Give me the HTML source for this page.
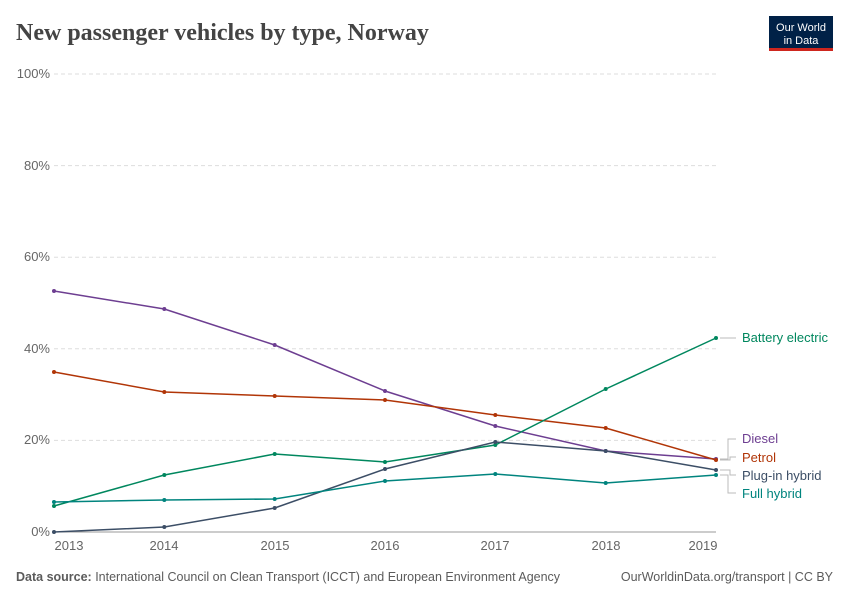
<!DOCTYPE html>
<html><head><meta charset="utf-8"><style>
body{margin:0;background:#fff;width:850px;height:600px;overflow:hidden;font-family:"Liberation Sans",sans-serif}
</style></head><body>
<svg width="850" height="600" xmlns="http://www.w3.org/2000/svg" font-family="Liberation Sans, sans-serif">
<text x="16" y="40" font-family="Liberation Serif, serif" font-size="24" font-weight="bold" fill="#444">New passenger vehicles by type, Norway</text>
<rect x="769" y="16" width="64" height="34" fill="#002147"/>
<rect x="769" y="48" width="64" height="3" fill="#ce261e"/>
<text x="801" y="31" font-size="11" fill="#fff" text-anchor="middle">Our World</text>
<text x="801" y="44" font-size="11" fill="#fff" text-anchor="middle">in Data</text>
<g stroke="#ddd" stroke-dasharray="4,3">
<line x1="54" x2="716" y1="74" y2="74"/><line x1="54" x2="716" y1="165.6" y2="165.6"/><line x1="54" x2="716" y1="257.2" y2="257.2"/><line x1="54" x2="716" y1="348.8" y2="348.8"/><line x1="54" x2="716" y1="440.4" y2="440.4"/>
</g>
<line x1="54" x2="716" y1="532" y2="532" stroke="#999"/>
<g font-size="13" fill="#666" text-anchor="end">
<text x="50" y="78">100%</text><text x="50" y="170">80%</text><text x="50" y="261">60%</text><text x="50" y="353">40%</text><text x="50" y="444">20%</text><text x="50" y="536">0%</text>
</g>
<g font-size="13" fill="#666" text-anchor="middle">
<text x="69" y="550">2013</text><text x="164" y="550">2014</text><text x="275" y="550">2015</text><text x="385" y="550">2016</text><text x="495" y="550">2017</text><text x="606" y="550">2018</text><text x="703" y="550">2019</text>
</g>
<g fill="none" stroke-width="1.5">
<polyline stroke="#6d3e91" points="54,291 164.3,309 274.7,345 385,391 495.3,426 605.7,451 716,459"/>
<polyline stroke="#b13507" points="54,372 164.3,392 274.7,396 385,400 495.3,415 605.7,428 716,460"/>
<polyline stroke="#00875e" points="54,506 164.3,475 274.7,454 385,462 495.3,445 605.7,389 716,338"/>
<polyline stroke="#3c4e66" points="54,532 164.3,527 274.7,508 385,469 495.3,442 605.7,451 716,470"/>
<polyline stroke="#00847e" points="54,502 164.3,500 274.7,499 385,481 495.3,474 605.7,483 716,475"/>
</g>
<g>
<g fill="#6d3e91"><circle cx="54" cy="291" r="2"/><circle cx="164.3" cy="309" r="2"/><circle cx="274.7" cy="345" r="2"/><circle cx="385" cy="391" r="2"/><circle cx="495.3" cy="426" r="2"/><circle cx="605.7" cy="451" r="2"/><circle cx="716" cy="459" r="2"/></g>
<g fill="#b13507"><circle cx="54" cy="372" r="2"/><circle cx="164.3" cy="392" r="2"/><circle cx="274.7" cy="396" r="2"/><circle cx="385" cy="400" r="2"/><circle cx="495.3" cy="415" r="2"/><circle cx="605.7" cy="428" r="2"/><circle cx="716" cy="460" r="2"/></g>
<g fill="#00875e"><circle cx="54" cy="506" r="2"/><circle cx="164.3" cy="475" r="2"/><circle cx="274.7" cy="454" r="2"/><circle cx="385" cy="462" r="2"/><circle cx="495.3" cy="445" r="2"/><circle cx="605.7" cy="389" r="2"/><circle cx="716" cy="338" r="2"/></g>
<g fill="#3c4e66"><circle cx="54" cy="532" r="2"/><circle cx="164.3" cy="527" r="2"/><circle cx="274.7" cy="508" r="2"/><circle cx="385" cy="469" r="2"/><circle cx="495.3" cy="442" r="2"/><circle cx="605.7" cy="451" r="2"/><circle cx="716" cy="470" r="2"/></g>
<g fill="#00847e"><circle cx="54" cy="502" r="2"/><circle cx="164.3" cy="500" r="2"/><circle cx="274.7" cy="499" r="2"/><circle cx="385" cy="481" r="2"/><circle cx="495.3" cy="474" r="2"/><circle cx="605.7" cy="483" r="2"/><circle cx="716" cy="475" r="2"/></g>
</g>
<g stroke="#bbb" fill="none">
<line x1="720" x2="736" y1="338" y2="338"/>
<polyline points="720,459 728,459 728,439 736,439"/>
<polyline points="720,460 730,460 730,457 736,457"/>
<polyline points="720,470 730,470 730,475 736,475"/>
<polyline points="720,475 728,475 728,493 736,493"/>
</g>
<g font-size="13">
<text x="742" y="342" fill="#00875e">Battery electric</text>
<text x="742" y="443" fill="#6d3e91">Diesel</text>
<text x="742" y="462" fill="#b13507">Petrol</text>
<text x="742" y="480" fill="#3c4e66">Plug-in hybrid</text>
<text x="742" y="498" fill="#00847e">Full hybrid</text>
</g>
<text x="16" y="581" font-size="12.5" fill="#5b5b5b"><tspan font-weight="bold">Data source:</tspan> International Council on Clean Transport (ICCT) and European Environment Agency</text>
<text x="833" y="581" font-size="12.5" fill="#5b5b5b" text-anchor="end">OurWorldinData.org/transport | CC BY</text>
</svg>
</body></html>
